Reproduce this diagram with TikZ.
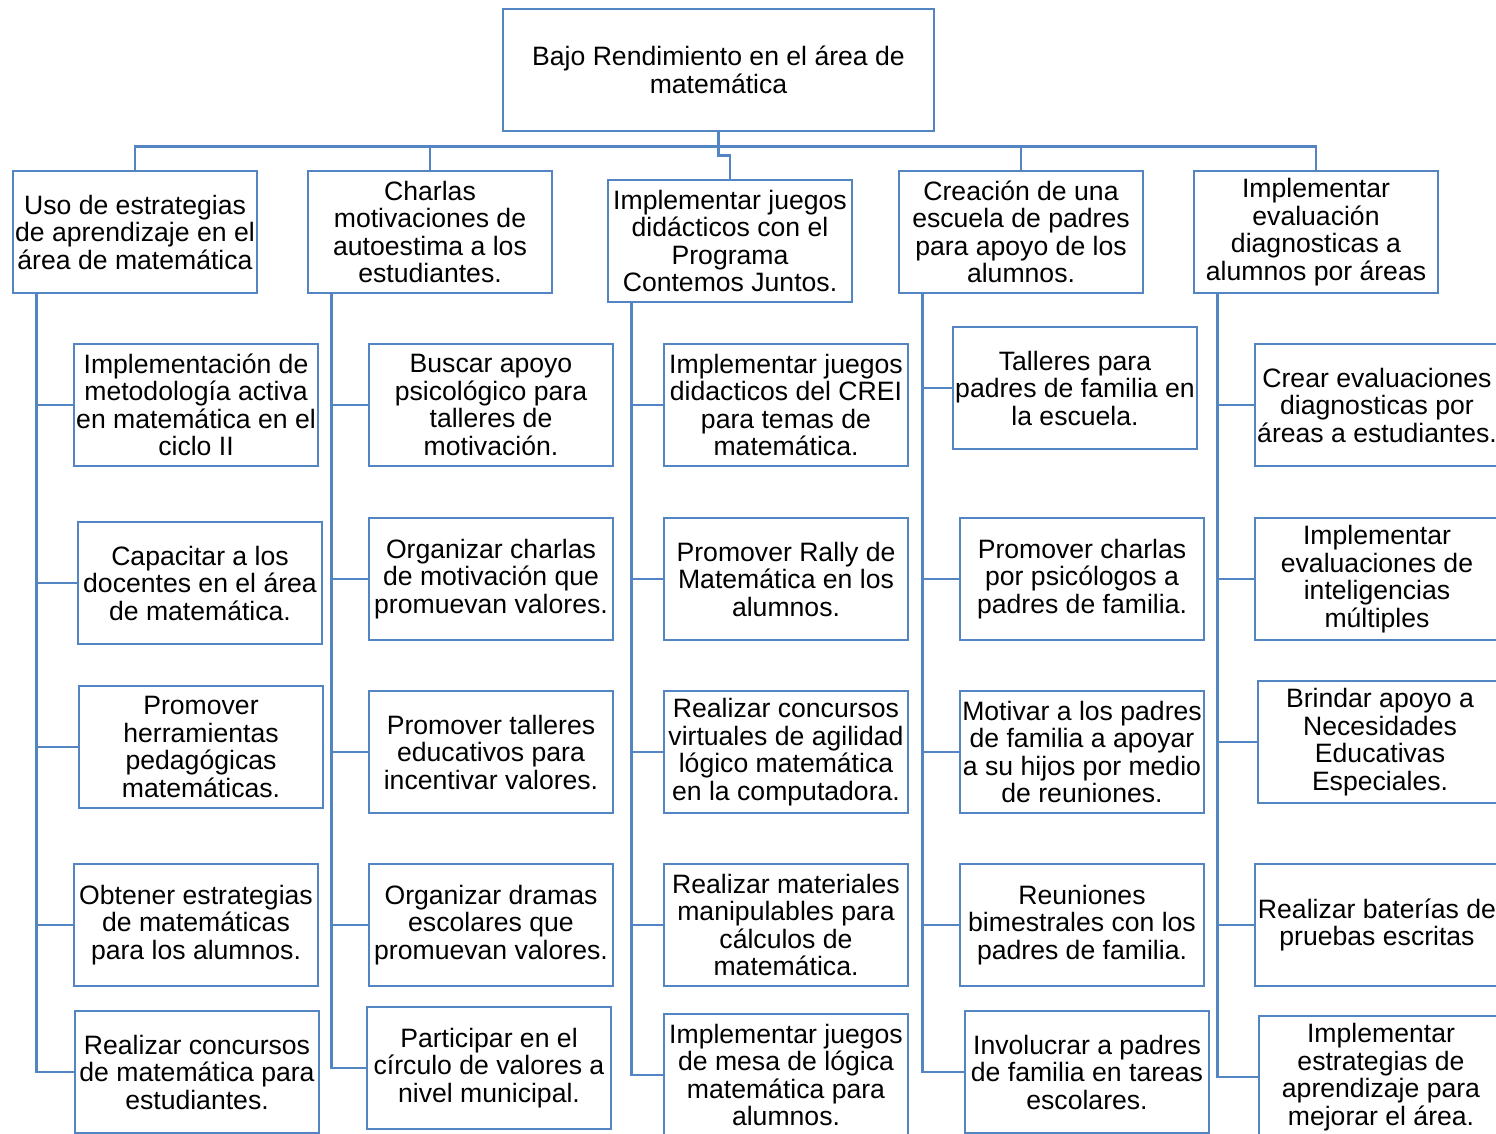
\documentclass[tikz,border=0pt]{standalone}
\usepackage{fontspec}
\setmainfont{Liberation Sans}
\definecolor{lineblue}{RGB}{82,133,193}
\begin{document}
\begin{tikzpicture}[x=1pt,y=-1pt,
  box/.style={draw=lineblue,line width=2.9pt,minimum width=244pt,minimum height=122pt,
    inner sep=0pt,align=center,font=\fontsize{26.6}{27.5}\selectfont,text=black},
  conn/.style={draw=lineblue,line width=2.9pt}]
\useasboundingbox (0,0) rectangle (1496,1133);
\clip (0,0) rectangle (1496,1133);
\fill[white] (0,0) rectangle (1496,1133);
% root
\node[box,minimum width=431pt] (root) at (718.5,70) {Bajo Rendimiento en el área de\\matemática};
% level 1
\node[box] (p1) at (135,232) {Uso de estrategias\\de aprendizaje en el\\área de matemática};
\node[box] (p2) at (430,232) {Charlas\\motivaciones de\\autoestima a los\\estudiantes.};
\node[box] (p3) at (730,241) {Implementar juegos\\didácticos con el\\Programa\\Contemos Juntos.};
\node[box] (p4) at (1021,232) {Creación de una\\escuela de padres\\para apoyo de los\\alumnos.};
\node[box] (p5) at (1316,232) {Implementar\\evaluación\\diagnosticas a\\alumnos por áreas};
% column 1
\node[box] (c11) at (196,405) {Implementación de\\metodología activa\\en matemática en el\\ciclo II};
\node[box] (c12) at (200,583) {Capacitar a los\\docentes en el área\\de matemática.};
\node[box] (c13) at (201,747) {Promover\\herramientas\\pedagógicas\\matemáticas.};
\node[box] (c14) at (196,925) {Obtener estrategias\\de matemáticas\\para los alumnos.};
\node[box] (c15) at (197,1072) {Realizar concursos\\de matemática para\\estudiantes.};
% column 2
\node[box] (c21) at (491,405) {Buscar apoyo\\psicológico para\\talleres de\\motivación.};
\node[box] (c22) at (491,579) {Organizar charlas\\de motivación que\\promuevan valores.};
\node[box] (c23) at (491,752) {Promover talleres\\educativos para\\incentivar valores.};
\node[box] (c24) at (491,925) {Organizar dramas\\escolares que\\promuevan valores.};
\node[box] (c25) at (489,1068) {Participar en el\\círculo de valores a\\nivel municipal.};
% column 3
\node[box] (c31) at (786,405) {Implementar juegos\\didacticos del CREI\\para temas de\\matemática.};
\node[box] (c32) at (786,579) {Promover Rally de\\Matemática en los\\alumnos.};
\node[box] (c33) at (786,752) {Realizar concursos\\virtuales de agilidad\\lógico matemática\\en la computadora.};
\node[box] (c34) at (786,925) {Realizar materiales\\manipulables para\\cálculos de\\matemática.};
\node[box] (c35) at (786,1075) {Implementar juegos\\de mesa de lógica\\matemática para\\alumnos.};
% column 4
\node[box] (c41) at (1075,388) {Talleres para\\padres de familia en\\la escuela.};
\node[box] (c42) at (1082,579) {Promover charlas\\por psicólogos a\\padres de familia.};
\node[box] (c43) at (1082,752) {Motivar a los padres\\de familia a apoyar\\a su hijos por medio\\de reuniones.};
\node[box] (c44) at (1082,925) {Reuniones\\bimestrales con los\\padres de familia.};
\node[box] (c45) at (1087,1072) {Involucrar a padres\\de familia en tareas\\escolares.};
% column 5
\node[box] (c51) at (1377,405) {Crear evaluaciones\\diagnosticas por\\áreas a estudiantes.};
\node[box] (c52) at (1377,579) {Implementar\\evaluaciones de\\inteligencias\\múltiples};
\node[box] (c53) at (1380,742) {Brindar apoyo a\\Necesidades\\Educativas\\Especiales.};
\node[box] (c54) at (1377,925) {Realizar baterías de\\pruebas escritas};
\node[box] (c55) at (1381,1077) {Implementar\\estrategias de\\aprendizaje para\\mejorar el área.};
% connectors root -> level 1
\foreach \p in {p1,p2,p4,p5}
  \draw[conn] (root.south) -- ++(0,14) -| (\p.north);
\draw[conn] (root.south) -- ++(0,23) -| (p3.north);
% spines
\foreach \p/\c in {p1/c11,p1/c12,p1/c13,p1/c14,p1/c15,
                   p2/c21,p2/c22,p2/c23,p2/c24,p2/c25,
                   p3/c31,p3/c32,p3/c33,p3/c34,p3/c35,
                   p4/c41,p4/c42,p4/c43,p4/c44,p4/c45,
                   p5/c51,p5/c52,p5/c53,p5/c54,p5/c55}
  \draw[conn] ([xshift=25pt]\p.south west) |- (\c.west);
\end{tikzpicture}
\end{document}
